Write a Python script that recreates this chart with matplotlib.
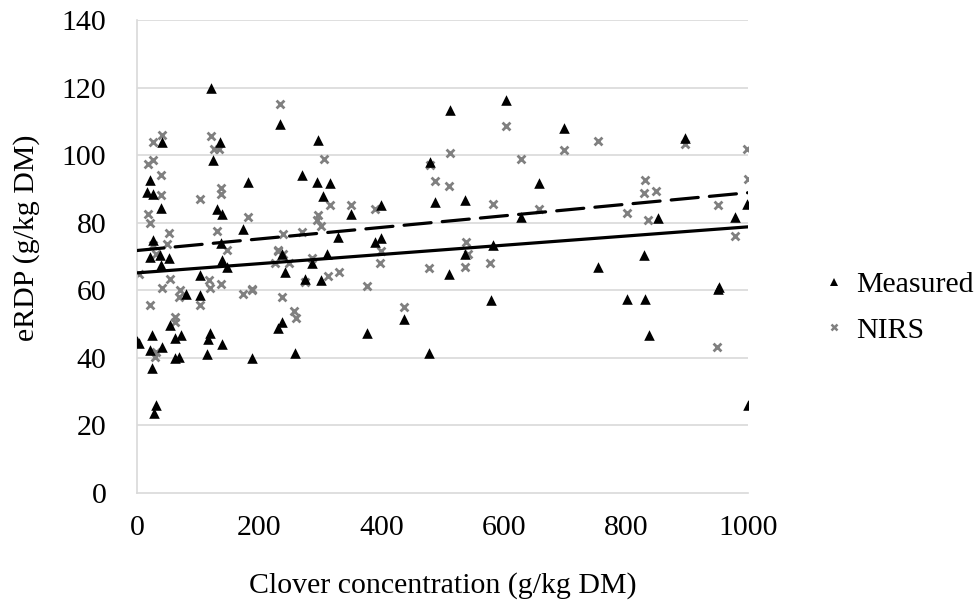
import numpy as np
import matplotlib
matplotlib.use("Agg")
import matplotlib.pyplot as plt
from matplotlib.lines import Line2D

plt.rcParams['font.family'] = ['Liberation Serif', 'DejaVu Serif']

# Measured eRDP
meas_x = [0, 121, 41, 136, 125, 22, 181, 17, 27, 39, 131, 139, 174, 27, 137,
          21, 38, 53, 40, 140, 147, 103, 81, 104, 54, 4, 24, 63, 72, 119, 117,
          139, 21, 41, 63, 69, 115, 188, 25, 31, 28,
          234, 297, 270, 295, 316, 305, 350, 399, 329, 390, 400, 238, 242, 286,
          311, 275, 301, 237, 230, 437, 376, 259,
          603, 513, 699, 480, 657, 488, 536, 628, 582, 537, 511, 579, 478,
          897, 998, 852, 978, 830, 755, 950, 953, 802, 832, 837, 999]
meas_y = [45, 120, 104, 104, 98.5, 92.8, 92, 89.2, 88.5, 84.5, 84, 82.6, 78.1, 74.9, 73.9,
          69.9, 70.4, 69.5, 67.5, 69, 67, 64.7, 58.9, 58.6, 49.7, 44.5, 46.8, 46, 46.8, 47.3, 45.5,
          44.1, 42.3, 43.1, 40, 40.3, 41.1, 40, 36.9, 26, 23.6,
          109.4, 104.5, 94.1, 92.1, 91.8, 87.9, 82.6, 85.2, 75.9, 74.4, 75.6, 70.9, 65.5, 68,
          70.9, 63.5, 63, 50.7, 49, 51.4, 47.3, 41.5,
          116.3, 113.5, 108.2, 98, 91.8, 86.2, 86.7, 81.8, 73.4, 70.9, 65, 57.3, 41.5,
          105.1, 85.7, 81.5, 81.8, 70.4, 67, 60.3, 61, 57.6, 57.6, 46.8, 26]

# NIRS eRDP
nirs_x = [41, 26, 121, 126, 135, 18, 27, 39, 137, 137, 39, 104, 18, 22, 182, 52, 131,
          26, 49, 32, 147, 4, 54, 118, 119, 41, 70, 69, 137, 104, 174, 188, 21, 62, 63,
          31, 29,
          234, 306, 316, 350, 390, 297, 294, 301, 239, 270, 231, 230, 239, 226, 248, 286,
          400, 398, 275, 312, 330, 189, 376, 237, 257, 260, 437,
          603, 699, 513, 628, 480, 488, 511, 582, 657, 538, 542, 478, 537, 578,
          754, 897, 998, 831, 830, 850, 999, 951, 802, 836, 978, 949]
nirs_y = [106, 104, 105.7, 101.8, 101.8, 97.4, 98.5, 94.3, 90.2, 88.5, 88.2, 87.2, 82.6, 80, 81.6, 77.1, 77.6,
          73.4, 73.7, 70.9, 71.9, 64.8, 63.5, 63, 60.8, 60.8, 60, 58.1, 61.8, 55.6, 58.8, 60.1, 55.6, 52.2, 50.7,
          41.8, 40.2,
          115.1, 99, 85.2, 85.4, 84, 82.3, 80.8, 79, 76.6, 77.2, 71.9, 71.7, 70.9, 68, 68, 69.5,
          71.7, 68, 62.5, 64.2, 65.4, 60.3, 61.3, 58.1, 53.9, 51.7, 55.1,
          108.6, 101.5, 100.7, 99, 97, 92.3, 90.9, 85.7, 84, 74.4, 70.9, 66.5, 67, 68.2,
          104.2, 103.3, 101.8, 92.6, 88.9, 89.5, 93.1, 85.4, 82.8, 81, 76.2, 43.1]

x_ticks = [0, 200, 400, 600, 800, 1000]
y_ticks = [0, 20, 40, 60, 80, 100, 120, 140]
series_names = ['Measured', 'NIRS']

FS = 21.5
fig = plt.figure(figsize=(9.78, 6.06), dpi=100)
ax = fig.add_axes([0.140, 0.1865, 0.625, 0.780])

grid_c = '#d9d9d9'
for yt in y_ticks[1:]:
    ax.axhline(yt, color=grid_c, lw=1.2, zorder=0)

ax.scatter(meas_x, meas_y, marker='^', s=58, color='black', linewidths=0, zorder=3)
ax.scatter(nirs_x, nirs_y, marker='x', s=32, color='#808080', linewidths=2.0, zorder=2)

xl = np.array([0, 1000])
pm = np.polyfit(meas_x, meas_y, 1)
pn = np.polyfit(nirs_x, nirs_y, 1)
ax.plot(xl, np.polyval(pm, xl), color='black', lw=2.3, zorder=4, solid_capstyle='butt')
ax.plot(xl, np.polyval(pn, xl), color='black', lw=2.3, zorder=4, dashes=(8.5, 3.5), dash_capstyle='round')

ax.set_xlim(0, 1000)
ax.set_ylim(0, 140)
ax.set_xticks(x_ticks)
ax.set_yticks(y_ticks)
ax.tick_params(axis='both', length=0, labelsize=FS)
ax.tick_params(axis='y', pad=22)
ax.tick_params(axis='x', pad=16)
for s in ['top', 'right']:
    ax.spines[s].set_visible(False)
for s in ['left', 'bottom']:
    ax.spines[s].set_color(grid_c)
    ax.spines[s].set_linewidth(1.2)

ax.set_xlabel('Clover concentration (g/kg DM)', fontsize=FS, labelpad=22)
ax.set_ylabel('eRDP (g/kg DM)', fontsize=FS)
ax.yaxis.set_label_coords(-0.158, 0.54)

handles = [Line2D([], [], ls='none', marker='^', ms=6, color='black', mew=0),
           Line2D([], [], ls='none', marker='x', ms=5, color='#808080', mew=1.8)]
leg = ax.legend(handles, series_names, loc='center left', bbox_to_anchor=(1.077, 0.392),
                frameon=False, fontsize=FS, handletextpad=0.35, labelspacing=0.62,
                handlelength=0.8)

fig.savefig('out.png', dpi=100)
